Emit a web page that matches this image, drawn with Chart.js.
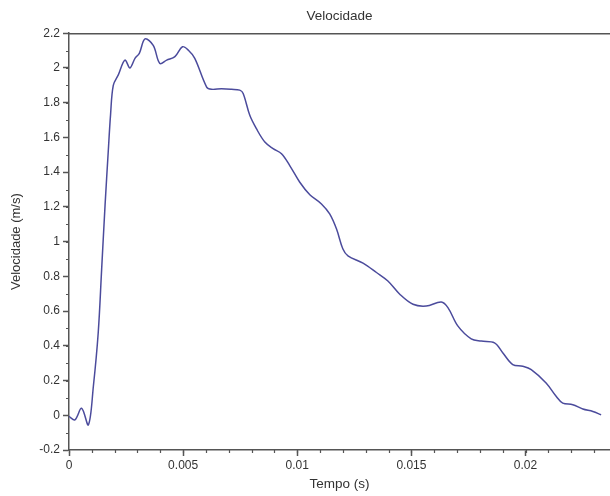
<!DOCTYPE html>
<html>
<head>
<meta charset="utf-8">
<script src="https://cdn.jsdelivr.net/npm/chart.js@4/dist/chart.umd.min.js"></script>
<style>
html,body{margin:0;padding:0;background:#fff;}
#wrap{width:610px;height:496px;}
</style>
</head>
<body>
<div id="wrap"><canvas id="c" width="610" height="496"></canvas></div>
<script>
const chartTitle = "Velocidade";
const xTitle = "Tempo (s)";
const yTitle = "Velocidade (m/s)";
const timeValues = [0, 0.00026, 0.00055, 0.00085, 0.00107, 0.00128, 0.00143, 0.00158, 0.00172, 0.00182, 0.00194, 0.00216, 0.00245, 0.00267, 0.00289, 0.00308, 0.00333, 0.00369, 0.00398, 0.00428, 0.00464, 0.00497, 0.00522, 0.00551, 0.00603, 0.00624, 0.00668, 0.00712, 0.00748, 0.00763, 0.00792, 0.00821, 0.00858, 0.00894, 0.00931, 0.00967, 0.01011, 0.01055, 0.01106, 0.01142, 0.01172, 0.0120, 0.01222, 0.01288, 0.01347, 0.01397, 0.01449, 0.01507, 0.01565, 0.01631, 0.0166, 0.01704, 0.01762, 0.01806, 0.01864, 0.0190, 0.01944, 0.01988, 0.02025, 0.0209, 0.02134, 0.02163, 0.02207, 0.02251, 0.02295, 0.02331];
const velocityValues = [-0.007, -0.026, 0.040, -0.055, 0.17, 0.475, 0.84, 1.21, 1.52, 1.73, 1.90, 1.96, 2.045, 2.0, 2.055, 2.084, 2.167, 2.13, 2.026, 2.045, 2.065, 2.122, 2.103, 2.055, 1.89, 1.877, 1.88, 1.877, 1.872, 1.853, 1.727, 1.65, 1.573, 1.535, 1.506, 1.438, 1.342, 1.27, 1.217, 1.159, 1.072, 0.957, 0.918, 0.876, 0.822, 0.773, 0.697, 0.639, 0.629, 0.652, 0.62, 0.513, 0.44, 0.427, 0.417, 0.36, 0.292, 0.282, 0.263, 0.186, 0.109, 0.07, 0.061, 0.036, 0.022, 0.003];
const xTickValues = [0, 0.005, 0.01, 0.015, 0.02];
const xTickLabels = ["0", "0.005", "0.01", "0.015", "0.02"];
const xMinorStep = 0.001;
const yMajorStep = 0.2, yMinorStep = 0.1;

const points = timeValues.map((t, i) => ({x: t, y: velocityValues[i]}));

const axisColor = '#555';
const FONT = 'Liberation Sans, Arial, sans-serif';
const minorTicks = {
  id: 'minorTicks',
  afterDraw(chart) {
    const ctx = chart.ctx, xs = chart.scales.x, ys = chart.scales.y, a = chart.chartArea;
    ctx.save();
    ctx.strokeStyle = axisColor;
    ctx.lineWidth = 1.5;
    ctx.beginPath();
    ctx.moveTo(a.left, a.top + 0.5); ctx.lineTo(a.right, a.top + 0.5);
    ctx.stroke();
    ctx.lineWidth = 1.2;
    ctx.beginPath();
    for (let i = 0; ; i++) {
      const v = i * xMinorStep;
      if (v > xs.max + 1e-9) break;
      const px = Math.round(xs.getPixelForValue(v)) + 0.5;
      ctx.moveTo(px, a.bottom); ctx.lineTo(px, a.bottom + 3);
    }
    for (let i = 0; ; i++) {
      const v = ys.min + i * yMinorStep;
      if (v > ys.max + 1e-9) break;
      const py = Math.round(ys.getPixelForValue(v)) + 0.5;
      ctx.moveTo(a.left - 3, py); ctx.lineTo(a.left, py);
    }
    ctx.stroke();
    ctx.restore();
  }
};

new Chart(document.getElementById('c'), {
  type: 'scatter',
  data: {
    datasets: [{
      data: points,
      showLine: true,
      borderColor: '#4b4b9c',
      borderWidth: 1.5,
      pointRadius: 0,
      tension: 0.35,
      fill: false
    }]
  },
  options: {
    responsive: false,
    animation: false,
    layout: {padding: {left: 0, right: 0, top: 0, bottom: 0}},
    plugins: {
      legend: {display: false},
      tooltip: {enabled: false},
      title: {
        display: true,
        fullSize: false,
        text: chartTitle,
        color: '#333',
        font: {family: FONT, size: 13.5, weight: 'normal'},
        padding: {top: 8, bottom: 9}
      }
    },
    scales: {
      x: {
        type: 'linear',
        min: 0,
        max: 0.0237,
        afterBuildTicks(s) { s.ticks = xTickValues.map(v => ({value: v})); },
        afterFit(s) { s.height = 46; },
        border: {display: true, color: axisColor, width: 1.5},
        grid: {display: true, drawOnChartArea: false, drawTicks: true, tickLength: 6, color: axisColor, tickColor: axisColor, tickWidth: 1.5},
        ticks: {
          color: '#333',
          padding: 2,
          maxRotation: 0,
          autoSkip: false,
          font: {family: FONT, size: 12},
          callback: (v, i) => xTickLabels[i]
        },
        title: {
          display: true,
          text: xTitle,
          color: '#333',
          font: {family: FONT, size: 13.5},
          padding: {top: 0, bottom: 4}
        }
      },
      y: {
        type: 'linear',
        min: -0.2,
        max: 2.2,
        afterFit(s) { s.width = 69; },
        border: {display: true, color: axisColor, width: 1.5},
        grid: {display: true, drawOnChartArea: false, drawTicks: true, tickLength: 6, color: axisColor, tickColor: axisColor, tickWidth: 1.5},
        ticks: {
          stepSize: yMajorStep,
          color: '#333',
          padding: 3,
          font: {family: FONT, size: 12},
          callback: v => String(Math.round(v * 10) / 10)
        },
        title: {
          display: true,
          text: yTitle,
          color: '#333',
          font: {family: FONT, size: 13},
          padding: {top: 9, bottom: 4}
        }
      }
    }
  },
  plugins: [minorTicks]
});
</script>
</body>
</html>
